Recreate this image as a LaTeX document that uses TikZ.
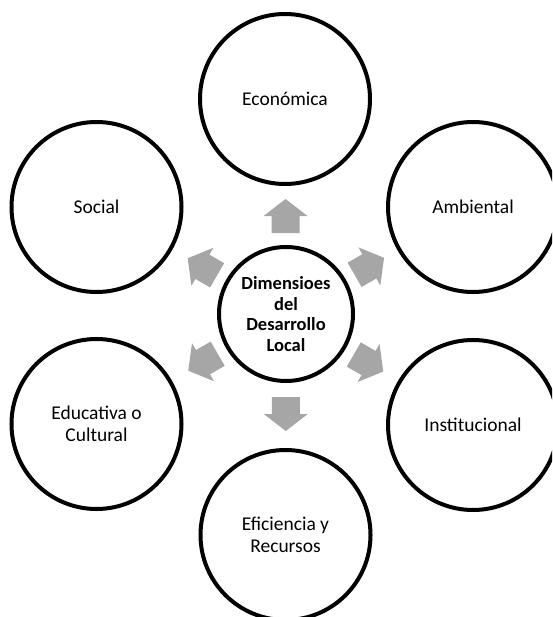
\documentclass[tikz,border=0pt]{standalone}
\usepackage{fontspec}
\setmainfont{Carlito}
\usetikzlibrary{calc}
\tikzset{
  dim/.style={circle, draw=black, line width=4pt, minimum size=170pt, inner sep=0pt,
    align=center, font=\fontsize{19.5}{21.5}\selectfont},
  hub/.style={circle, draw=black, line width=4pt, minimum size=134pt, inner sep=0pt,
    align=center, font=\fontsize{18.5}{20.7}\selectfont\bfseries},
  grayarrow/.style={fill=arrowgray, draw=none}
}
\definecolor{arrowgray}{HTML}{A6A6A6}
\newcommand{\dimarrow}[2]{%
  \begin{scope}[shift={(#1)}, rotate=#2]
    \fill[grayarrow] (-17,-14) -- (0,-14) -- (0,-22) -- (17,0) -- (0,22) -- (0,14) -- (-17,14) -- cycle;
  \end{scope}}
\begin{document}
\begin{tikzpicture}[x=1pt,y=-1pt]
\useasboundingbox (0,0) rectangle (552,617);
\clip (0,0) rectangle (552,617);
\node[hub] (c) at (286,314) {Dimensioes\\del\\Desarrollo\\Local};
\node[dim] (eco) at (285,99) {Económica};
\node[dim] (amb) at (473,207) {Ambiental};
\node[dim] (ins) at (473,425) {Institucional};
\node[dim] (efi) at (285.5,535) {Eficiencia y\\Recursos};
\node[dim] (edu) at (96.5,424) {Educativa o\\Cultural};
\node[dim] (soc) at (96.5,207) {Social};
\coordinate (a1) at ($(c)!98pt!(eco)$);
\coordinate (a2) at ($(c)!96pt!(amb)$);
\coordinate (a3) at ($(c)!96pt!(ins)$);
\coordinate (a4) at ($(c)!100pt!(efi)$);
\coordinate (a5) at ($(c)!96pt!(edu)$);
\coordinate (a6) at ($(c)!96pt!(soc)$);
\dimarrow{a1}{90}
\dimarrow{a2}{30}
\dimarrow{a3}{-30}
\dimarrow{a4}{-90}
\dimarrow{a5}{-150}
\dimarrow{a6}{150}
\end{tikzpicture}
\end{document}
